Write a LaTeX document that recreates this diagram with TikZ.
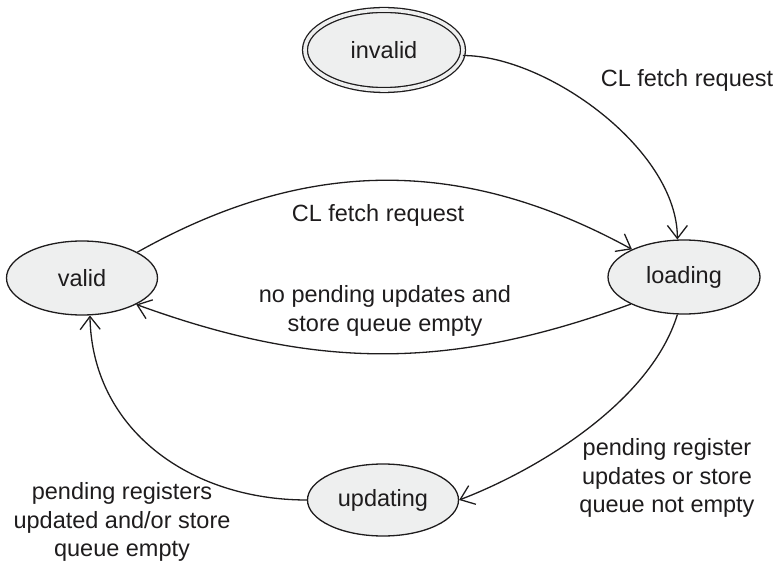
\documentclass[tikz,border=0pt]{standalone}
\usepackage{fontspec}
\setmainfont{Liberation Sans}
\usetikzlibrary{shapes.geometric,arrows.meta}
\definecolor{nodefill}{HTML}{EEEFEF}
\definecolor{ink}{HTML}{1E1C1D}
\begin{document}
\begin{tikzpicture}[x=1pt,y=-1pt,
  state/.style={ellipse,draw=ink,fill=nodefill,line width=1.3pt,inner sep=0pt,
    minimum width=151pt,minimum height=74pt,
    font=\fontsize{23.5}{28}\selectfont,text=ink},
  trans/.style={draw=ink,line width=1.3pt,
    -{Straight Barb[length=13pt,width=20pt,line width=1.3pt]}},
  lbl/.style={align=center,font=\fontsize{23.5}{28.5}\selectfont,text=ink,inner sep=0pt}]
\useasboundingbox (0,0) rectangle (777,564);
\node[state] (valid) at (82,278) {valid};
\node[state,minimum width=152pt] (loading) at (684,277) {loading};
\node[state,minimum height=72pt] (updating) at (383,500) {updating};
\node[state,double=nodefill,double distance=3.6pt,minimum width=158pt,minimum height=80pt] (invalid) at (384,50) {invalid};

\draw[trans] (invalid.-4) to[out=0,in=90,out distance=84pt,in distance=90pt] (loading.100);
\draw[trans] (valid.25) to[bend left=29] (loading.152);
\draw[trans] (loading.207) to[bend left=20] (valid.334);
\draw[trans] (loading.260) to[out=253,in=21,out distance=90pt,in distance=87pt] (updating.east);
\draw[trans] (updating.west) to[out=180,in=271,out distance=117pt,in distance=114pt] (valid.282);

\node[lbl] (l1) at (687,80) {CL fetch request};
\node[lbl] (l2) at (378,215) {CL fetch request};
\node[lbl] (l3) at (385,311) {no pending updates and\\store queue empty};
\node[lbl] (l4) at (667,478) {pending register\\updates or store\\queue not empty};
\node[lbl] (l5) at (122,522) {pending registers\\updated and/or store\\queue empty};
\end{tikzpicture}
\end{document}
